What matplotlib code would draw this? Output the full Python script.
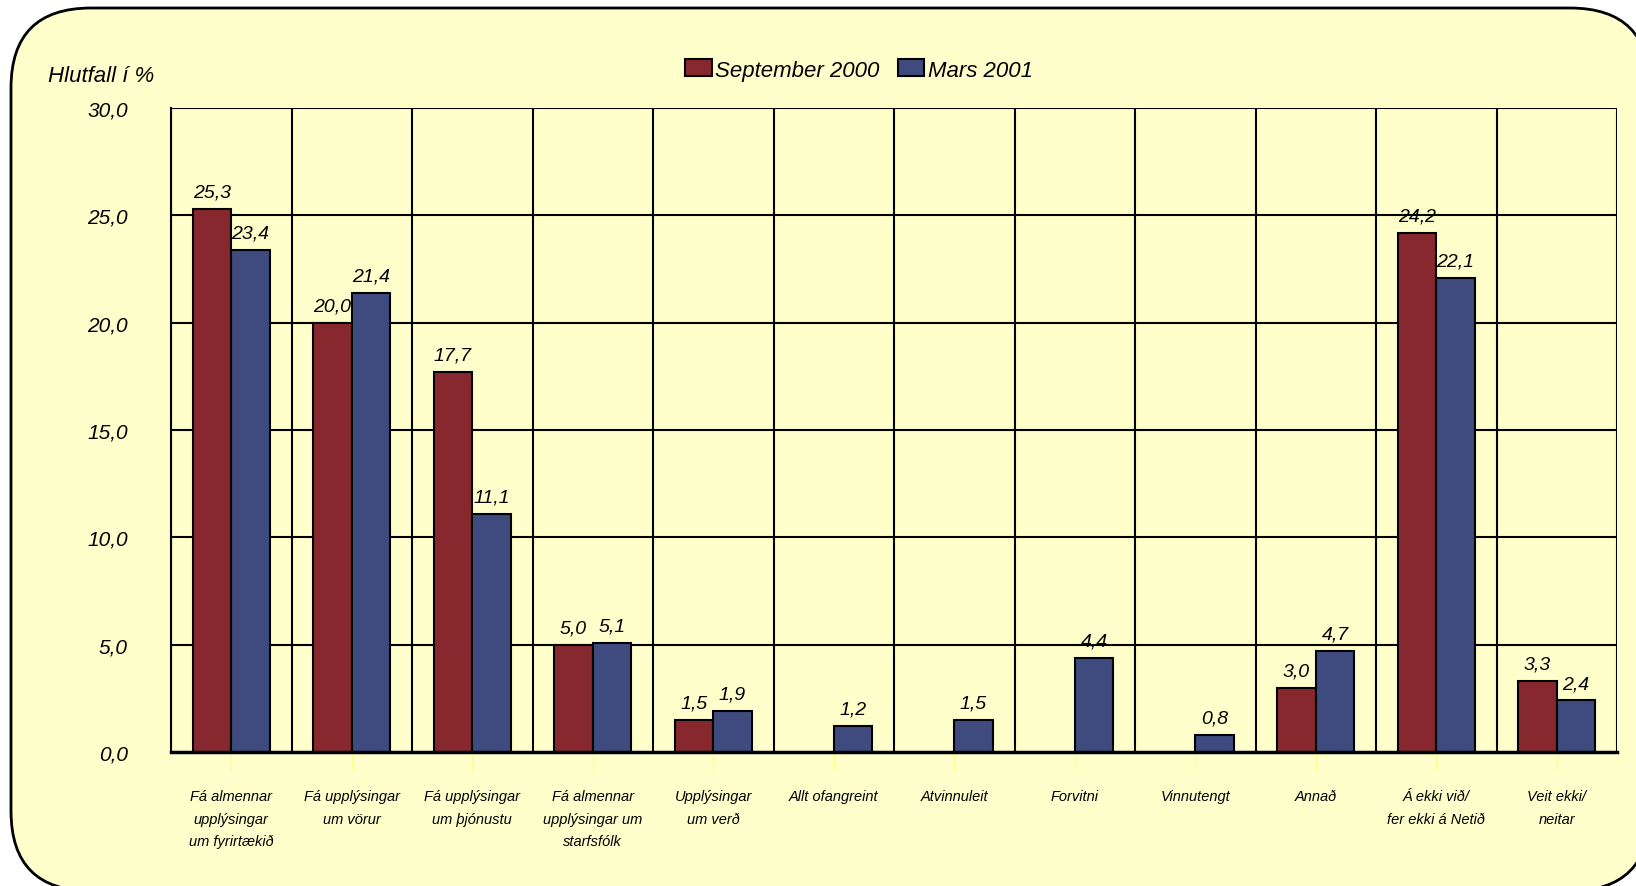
import matplotlib.pyplot as plt
import numpy as np
from matplotlib.patches import FancyBboxPatch, Patch
from matplotlib.transforms import IdentityTransform

categories = [
    "Fá almennar\nupplýsingar\num fyrirtækið",
    "Fá upplýsingar\num vörur",
    "Fá upplýsingar\num þjónustu",
    "Fá almennar\nupplýsingar um\nstarfsfólk",
    "Upplýsingar\num verð",
    "Allt ofangreint",
    "Atvinnuleit",
    "Forvitni",
    "Vinnutengt",
    "Annað",
    "Á ekki við/\nfer ekki á Netið",
    "Veit ekki/\nneitar",
]
sept_2000 = [25.3, 20.0, 17.7, 5.0, 1.5, np.nan, np.nan, np.nan, np.nan, 3.0, 24.2, 3.3]
mars_2001 = [23.4, 21.4, 11.1, 5.1, 1.9, 1.2, 1.5, 4.4, 0.8, 4.7, 22.1, 2.4]
series_names = ["September 2000", "Mars 2001"]
y_ticks = [0, 5, 10, 15, 20, 25, 30]

BG = '#FFFFCC'
RED = '#86282E'
BLUE = '#3F4B7E'

plt.rcParams['font.family'] = ['Liberation Sans', 'DejaVu Sans']
plt.rcParams['font.style'] = 'italic'

W, H = 1636, 887
fig = plt.figure(figsize=(W / 100, H / 100), dpi=100)
fig.patch.set_facecolor('white')

# rounded frame behind everything
frame = FancyBboxPatch((11, -5), 1639, 883,
                       boxstyle="round,pad=0,rounding_size=80",
                       transform=IdentityTransform(),
                       facecolor=BG, edgecolor='black', linewidth=2, zorder=-10)
fig.add_artist(frame)

ax = fig.add_axes([171 / W, 1 - 753 / H, (1617 - 171) / W, (753 - 109) / H])
ax.set_facecolor(BG)

x = np.arange(len(categories))
w = 0.32
b1 = ax.bar(x - w / 2, sept_2000, w, color=RED, edgecolor='black', linewidth=1.5, zorder=3)
b2 = ax.bar(x + w / 2, mars_2001, w, color=BLUE, edgecolor='black', linewidth=1.5, zorder=3)

for bars, vals in ((b1, sept_2000), (b2, mars_2001)):
    for rect, v in zip(bars, vals):
        if np.isnan(v):
            continue
        ax.annotate(f"{v:.1f}".replace('.', ','),
                    (rect.get_x() + rect.get_width() / 2, v),
                    xytext=(0, 6), textcoords='offset points',
                    ha='center', va='bottom', fontsize=14, zorder=4)

ax.set_xlim(-0.5, len(categories) - 0.5)
ax.set_ylim(0, 30)
ax.set_yticks(y_ticks)
ax.set_yticklabels([f"{t:.1f}".replace('.', ',') for t in y_ticks], fontsize=15)
ax.tick_params(axis='y', length=0, pad=31)

ax.set_xticks(x)
ax.set_xticklabels(categories, fontsize=10.5, linespacing=1.75, va='top')
ax.tick_params(axis='x', length=14, color='#FFFF88', width=1, pad=13)

# grid: horizontal at ticks, vertical at category boundaries
for t in y_ticks[1:]:
    ax.axhline(t, color='black', linewidth=1.5, zorder=1)
for b in np.arange(-0.5, len(categories), 1.0):
    ax.axvline(b, color='black', linewidth=1.5, zorder=1)

for s in ['top', 'right']:
    ax.spines[s].set_visible(False)
ax.spines['left'].set_linewidth(1.5)
ax.spines['bottom'].set_linewidth(2.5)
ax.spines['bottom'].set_zorder(5)

fig.text(48 / W, 1 - 76 / H, "Hlutfall í %", fontsize=16, ha='left', va='center')

handles = [Patch(facecolor=RED, edgecolor='black', linewidth=1.5),
           Patch(facecolor=BLUE, edgecolor='black', linewidth=1.5)]
fig.legend(handles, series_names, loc='center', bbox_to_anchor=(859 / W, 1 - 71 / H),
           ncol=2, frameon=False, fontsize=16, handlelength=1.2, handleheight=0.8,
           handletextpad=0.15, columnspacing=0.8)

fig.savefig('out.png', dpi=100, facecolor='white')
